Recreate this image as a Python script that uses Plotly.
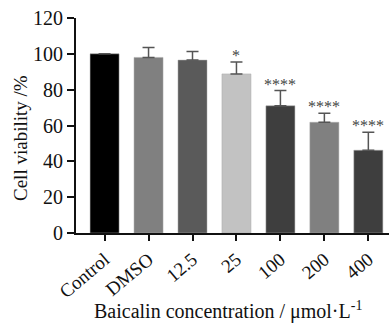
import plotly.graph_objects as go

categories = ["Control", "DMSO", "12.5", "25", "100", "200", "400"]
viability = [100, 98, 96.5, 88.8, 71, 61.8, 46.2]
sd_upper = [0, 5.5, 4.8, 6.7, 8.5, 5.1, 10.1]
significance = ["", "", "", "*", "****", "****", "****"]

bar_colors = ["#000000", "#808080", "#5a5a5a", "#c2c2c2", "#3e3e3e", "#808080", "#3e3e3e"]
serif = "Liberation Serif, Times New Roman, serif"

fig = go.Figure()
fig.add_trace(go.Bar(
    x=categories, y=viability,
    marker=dict(color=bar_colors, line=dict(color="#aaaaaa", width=0.5)),
    error_y=dict(type="data", array=sd_upper, arrayminus=[0]*len(sd_upper),
                 symmetric=False, color="#555555", thickness=1.5, width=6),
    width=0.66,
))

for i, (v, e, s) in enumerate(zip(viability, sd_upper, significance)):
    if s:
        fig.add_annotation(x=i, y=v + e, xref="x", yref="y", text=s, showarrow=False,
                           yanchor="bottom", yshift=-3, borderpad=0,
                           font=dict(family=serif, size=16, color="#444444"))

fig.add_annotation(text="Cell viability /%", xref="paper", yref="paper",
                   x=-0.177, y=0.44, textangle=-90, showarrow=False,
                   xanchor="center", yanchor="middle",
                   font=dict(family=serif, size=19, color="#111111"))

fig.add_annotation(text="Baicalin concentration / μmol·L<sup>-1</sup>",
                   xref="paper", yref="paper", x=0.485, y=-0.36,
                   showarrow=False, xanchor="center", yanchor="middle",
                   font=dict(family=serif, size=20, color="#111111"))

fig.update_layout(
    width=389, height=323,
    margin=dict(l=76, r=0, t=18, b=90),
    paper_bgcolor="white", plot_bgcolor="white",
    showlegend=False,
    font=dict(family=serif, color="#111111"),
    xaxis=dict(
        type="category", automargin=False,
        range=[-0.65, 6.47],
        showline=True, linecolor="#111111", linewidth=2,
        ticks="outside", ticklen=6, tickwidth=2, tickcolor="#111111",
        tickangle=-40, tickfont=dict(family=serif, size=19),
    ),
    yaxis=dict(
        automargin=False,
        range=[0, 120], tickvals=[0, 20, 40, 60, 80, 100, 120],
        showline=True, linecolor="#111111", linewidth=2,
        ticks="outside", ticklen=7, tickwidth=2, tickcolor="#111111",
        showgrid=False, zeroline=False,
        tickfont=dict(family=serif, size=20),
    ),
)

fig.write_html("out.html", config={"displayModeBar": False},
               post_script="document.body.style.margin='0';document.body.style.overflow='hidden';")
